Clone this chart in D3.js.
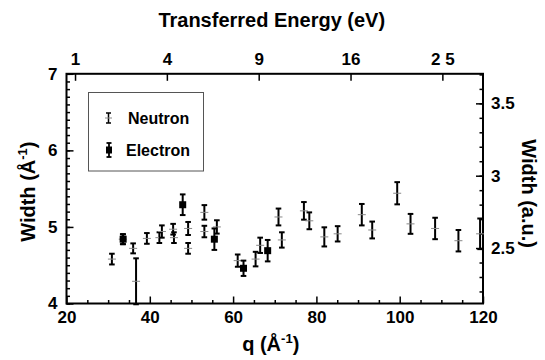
<!DOCTYPE html>
<html>
<head>
<meta charset="utf-8">
<script src="https://cdn.jsdelivr.net/npm/d3@7"></script>
<style>
  body { margin: 0; background: #fff; }
  svg { font-family: "Liberation Sans", Arial, sans-serif; font-weight: bold; }
  .axis text { font-size: 17px; font-weight: bold; fill: #000; }
  .axis line { stroke: #000; stroke-width: 1.5; }
  .axis path { display: none; }
</style>
</head>
<body>
<div id="chart"></div>
<script>
// Neutron data: q (Å^-1), width (Å^-1), error
const qNeutron = [30.9, 33.5, 36.0, 36.7, 39.3, 42.3, 42.9, 45.6, 45.8, 49.2, 49.2, 53.1, 53.1, 56.1,
  61.1, 65.4, 66.5, 70.9, 71.7, 77.0, 78.3, 81.9, 85.1, 90.9, 93.4, 99.4, 102.6, 108.5, 114.1, 119.3];
const wNeutron = [4.58, 4.84, 4.72, 4.29, 4.85, 4.86, 4.94, 4.97, 4.86, 4.98, 4.72, 5.19, 4.94, 5.00,
  4.56, 4.58, 4.76, 5.13, 4.83, 5.21, 5.08, 4.87, 4.91, 5.16, 4.96, 5.44, 5.04, 4.98, 4.82, 4.91];
const errNeutron = [0.07, 0.065, 0.065, 0.30, 0.07, 0.07, 0.08, 0.07, 0.07, 0.085, 0.07, 0.095, 0.075, 0.087,
  0.08, 0.095, 0.10, 0.11, 0.10, 0.115, 0.11, 0.125, 0.10, 0.14, 0.11, 0.145, 0.13, 0.14, 0.14, 0.20];

// Electron data
const qElectron = [33.6, 47.9, 55.5, 62.5, 68.3];
const wElectron = [4.84, 5.29, 4.84, 4.46, 4.69];
const errElectron = [0.065, 0.135, 0.14, 0.10, 0.14];

// Tick values
const energyTicks = [1, 4, 9, 16, 25];
const energyLabels = ["1", "4", "9", "16", "2 5"];
const leftTicks = [4, 5, 6, 7];
const rightTicks = [2.5, 3, 3.5];
const bottomTicks = [20, 40, 60, 80, 100, 120];

const AU = 1.8897;       // 1 a.u. of momentum in Å^-1
const EK = 2.057e-3;     // E (eV) = EK * q^2 for a proton

const W = 545, H = 360;
const x0 = 66.5, x1 = 483, yTop = 73.8, yBot = 303.5;

const svg = d3.select("#chart").append("svg")
  .attr("width", W).attr("height", H);

// Scales
const x = d3.scaleLinear().domain([20, 120]).range([x0, x1]);
const y = d3.scaleLinear().domain([4, 7]).range([yBot, yTop]);
const yR = d3.scaleLinear().domain([4 / AU, 7 / AU]).range([yBot, yTop]);
const xE = d3.scaleSqrt().domain([EK * 20 * 20, EK * 120 * 120]).range([x0, x1]);

// Bottom axis
svg.append("g").attr("class", "axis")
  .attr("transform", `translate(0,${yBot})`)
  .call(d3.axisBottom(x).tickValues(d3.range(20, 121, 5).filter(v => v % 20 !== 0)).tickSize(-3.5).tickFormat(""));
svg.append("g").attr("class", "axis")
  .attr("transform", `translate(0,${yBot})`)
  .call(d3.axisBottom(x).tickValues(bottomTicks).tickSize(-7).tickPadding(7).tickFormat(d3.format("d")));

// Left axis
svg.append("g").attr("class", "axis")
  .attr("transform", `translate(${x0},0)`)
  .call(d3.axisLeft(y).tickValues(d3.range(40, 71).map(v => v / 10)).tickSize(-3.5).tickFormat(""));
svg.append("g").attr("class", "axis")
  .attr("transform", `translate(${x0},0)`)
  .call(d3.axisLeft(y).tickValues(leftTicks).tickSize(-7).tickPadding(9).tickFormat(d3.format("d")));

// Right axis (a.u.)
svg.append("g").attr("class", "axis")
  .attr("transform", `translate(${x1},0)`)
  .call(d3.axisRight(yR).tickValues(d3.range(22, 38).map(v => v / 10)).tickSize(-3.5).tickFormat(""));
svg.append("g").attr("class", "axis")
  .attr("transform", `translate(${x1},0)`)
  .call(d3.axisRight(yR).tickValues(rightTicks).tickSize(-7).tickPadding(8).tickFormat(d => d));

// Top axis (energy)
svg.append("g").attr("class", "axis")
  .attr("transform", `translate(0,${yTop})`)
  .call(d3.axisTop(xE).tickValues(energyTicks).tickSize(-7).tickPadding(9)
    .tickFormat((d, i) => energyLabels[i]));

// Frame
svg.append("rect")
  .attr("x", x0).attr("y", yTop)
  .attr("width", x1 - x0).attr("height", yBot - yTop)
  .attr("fill", "none").attr("stroke", "#000").attr("stroke-width", 2);

// Axis titles
svg.append("text")
  .attr("x", (x0 + x1) / 2 - 3).attr("y", 27)
  .attr("text-anchor", "middle").style("font-size", "20px")
  .text("Transferred Energy (eV)");

const xt = svg.append("text")
  .attr("x", (x0 + x1) / 2 - 4).attr("y", 351)
  .attr("text-anchor", "middle").style("font-size", "20px");
xt.append("tspan").text("q (Å");
xt.append("tspan").attr("dy", -8).style("font-size", "13px").text("-1");
xt.append("tspan").attr("dy", 8).text(")");

const yt = svg.append("text")
  .attr("transform", `translate(35,${(yTop + yBot) / 2 + 3}) rotate(-90)`)
  .attr("text-anchor", "middle").style("font-size", "20px");
yt.append("tspan").text("Width (Å");
yt.append("tspan").attr("dy", -8).style("font-size", "13px").text("-1");
yt.append("tspan").attr("dy", 8).text(")");

svg.append("text")
  .attr("transform", `translate(522,${(yTop + yBot) / 2 + 5}) rotate(90)`)
  .attr("text-anchor", "middle").style("font-size", "20px")
  .text("Width (a.u.)");

// Error bar drawing
function drawBar(g, qx, wy, e) {
  const cx = x(qx), cap = 2.8;
  g.append("line").attr("x1", cx).attr("x2", cx).attr("y1", y(wy - e)).attr("y2", y(wy + e));
  g.append("line").attr("x1", cx - cap).attr("x2", cx + cap).attr("y1", y(wy - e)).attr("y2", y(wy - e));
  g.append("line").attr("x1", cx - cap).attr("x2", cx + cap).attr("y1", y(wy + e)).attr("y2", y(wy + e));
}

const plot = svg.append("g");

// Neutron points
qNeutron.forEach((q, i) => {
  const g = plot.append("g").attr("stroke", "#000").attr("stroke-width", 2);
  drawBar(g, q, wNeutron[i], errNeutron[i]);
  plot.append("line")
    .attr("x1", x(q) - 4).attr("x2", x(q) + 4)
    .attr("y1", y(wNeutron[i])).attr("y2", y(wNeutron[i]))
    .attr("stroke", "#888").attr("stroke-width", 1);
});

// Electron points
qElectron.forEach((q, i) => {
  const g = plot.append("g").attr("stroke", "#000").attr("stroke-width", 2);
  drawBar(g, q, wElectron[i], errElectron[i]);
  plot.append("rect")
    .attr("x", x(q) - 3.5).attr("y", y(wElectron[i]) - 3.5)
    .attr("width", 7).attr("height", 7).attr("fill", "#000");
});

// Legend
const legend = svg.append("g");
legend.append("rect")
  .attr("x", 88.5).attr("y", 92.5).attr("width", 115).attr("height", 78.5)
  .attr("fill", "#fff").attr("stroke", "#555").attr("stroke-width", 1);

const ln = legend.append("g").attr("stroke", "#000").attr("stroke-width", 1.5);
ln.append("line").attr("x1", 108.5).attr("x2", 108.5).attr("y1", 113).attr("y2", 123);
ln.append("line").attr("x1", 106).attr("x2", 111).attr("y1", 113).attr("y2", 113);
ln.append("line").attr("x1", 106).attr("x2", 111).attr("y1", 123).attr("y2", 123);
legend.append("line").attr("x1", 105).attr("x2", 112).attr("y1", 118).attr("y2", 118)
  .attr("stroke", "#888").attr("stroke-width", 1);

const le = legend.append("g").attr("stroke", "#000").attr("stroke-width", 1.8);
le.append("line").attr("x1", 109).attr("x2", 109).attr("y1", 143).attr("y2", 157);
le.append("line").attr("x1", 106.5).attr("x2", 111.5).attr("y1", 143).attr("y2", 143);
le.append("line").attr("x1", 106.5).attr("x2", 111.5).attr("y1", 157).attr("y2", 157);
legend.append("rect").attr("x", 106).attr("y", 146.5).attr("width", 6).attr("height", 7).attr("fill", "#000");

legend.append("text").attr("x", 128).attr("y", 124).style("font-size", "16px").text("Neutron");
legend.append("text").attr("x", 126).attr("y", 156).style("font-size", "16px").text("Electron");
</script>
</body>
</html>
